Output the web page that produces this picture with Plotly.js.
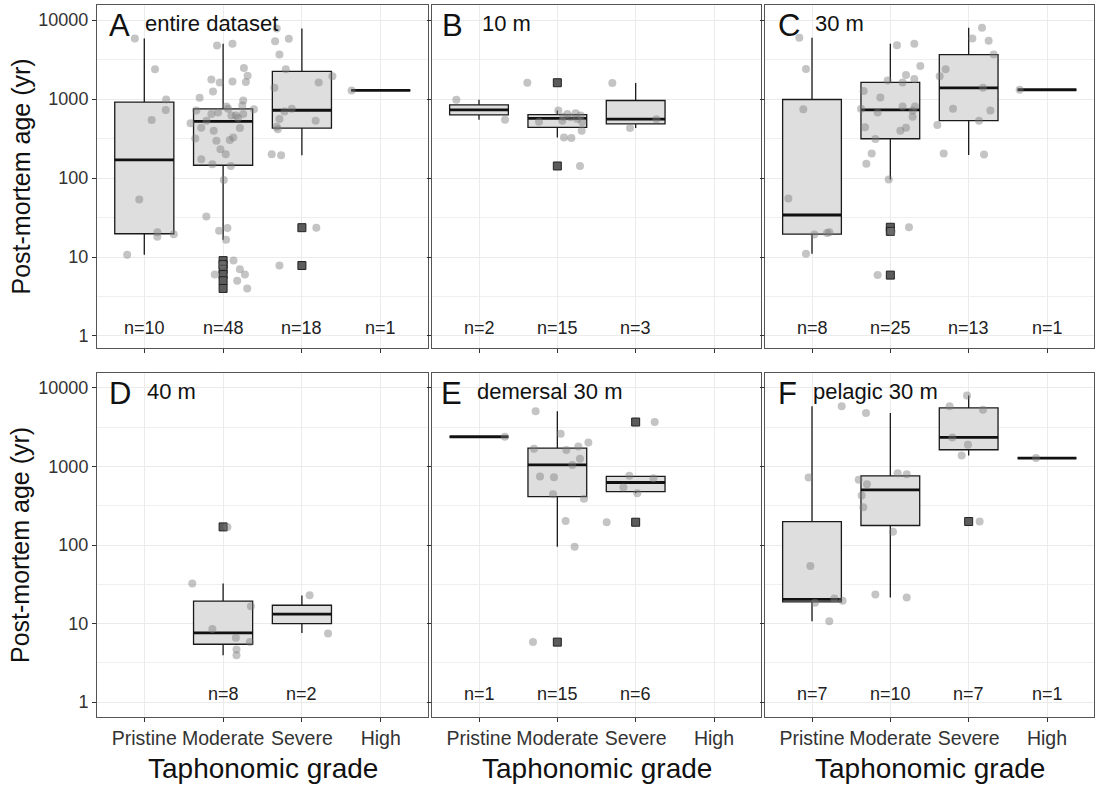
<!DOCTYPE html>
<html>
<head>
<meta charset="utf-8">
<script src="https://cdn.plot.ly/plotly-3.0.1.min.js"></script>
<style>html,body{margin:0;padding:0;background:#fff}#chart{width:1097px;height:785px}</style>
</head>
<body>
<div id="chart"></div>
<script>
// ---------------- DATA ----------------
const categories = ['Pristine', 'Moderate', 'Severe', 'High'];
const yTickVals = [1, 10, 100, 1000, 10000];
const yTickText = ['1', '10', '100', '1000', '10000'];
const yMinorVals = [3.162, 31.62, 316.2, 3162];
const panelLetters = ['A', 'B', 'C', 'D', 'E', 'F'];
const panelLabels = ['entire dataset', '10 m', '30 m', '40 m', 'demersal 30 m', 'pelagic 30 m'];
const xTitle = 'Taphonomic grade';
const yTitle = 'Post-mortem age (yr)';

// Panel A - entire dataset
const A_cat = [0, 1, 2, 3];
const A_n   = [10, 48, 18, 1];
const A_q1  = [19.7, 145, 429, 1283];
const A_med = [170, 522, 721, 1283];
const A_q3  = [912, 750, 2240, 1283];
const A_lo  = [10.7, 16.5, 194, 1283];
const A_hi  = [5840, 5000, 7830, 1283];
const A_outCat = [1, 1, 1, 1, 1, 1, 2, 2];
const A_outVal = [9, 8, 7, 6, 5, 4, 23.5, 7.8];
const A_pristine = [5840, 2377, 986, 728, 543, 53.5, 20.5, 18.1, 19.4, 10.7];
const A_pristine_jit = [-0.12, 0.136, 0.277, 0.272, 0.094, -0.064, 0.166, 0.166, 0.374, -0.217];
const A_moderate = [4760, 5000, 1771, 1622, 1670, 1638, 1972, 2470, 1246, 1035, 826, 742, 802, 617, 647, 647, 673, 492, 433, 397, 429, 326, 302, 317, 200, 173, 149, 142, 94, 32.5, 21.5, 23.3, 16.5, 9, 8, 7, 6, 6, 5, 4, 750, 617, 575, 532, 296, 957, 713, 232];
const A_moderate_jit = [-0.077, 0.119, -0.149, -0.043, 0.119, 0.289, 0.311, 0.264, -0.128, -0.298, 0.243, 0.391, 0.043, 0.162, 0.255, -0.149, -0.064, -0.413, -0.277, -0.119, 0.213, 0.128, 0.085, -0.353, 0.034, -0.277, -0.136, 0.098, 0.009, -0.213, -0.051, 0.055, 0.038, 0.132, -0.01, 0.213, -0.106, 0.277, 0.179, 0.306, 0.064, 0.106, 0.19, -0.21, -0.085, 0.255, -0.34, -0.034];
const A_severe = [5400, 5780, 3650, 2375, 1935, 1622, 1387, 750, 693, 559, 532, 446, 413, 200, 194, 23.5, 7.8, 7830];
const A_severe_jit = [-0.34, -0.166, -0.285, -0.204, 0.387, 0.213, -0.349, -0.128, -0.221, -0.285, 0.174, -0.319, -0.306, -0.383, -0.264, 0.183, -0.285, -0.319];
const A_high = [1283];
const A_high_jit = [-0.37];

// Panel B - 10 m
const B_cat = [0, 1, 2];
const B_n   = [2, 15, 3];
const B_q1  = [629, 438, 483];
const B_med = [728, 570, 555];
const B_q3  = [843, 635, 957];
const B_lo  = [548, 326, 430];
const B_hi  = [976, 714, 1592];
const B_outCat = [1, 1];
const B_outVal = [1607, 142];
const B_pristine = [976, 548];
const B_pristine_jit = [-0.289, 0.332];
const B_moderate = [1607, 714, 647, 660, 598, 587, 617, 507, 517, 397, 326, 320, 142, 559, 532];
const B_moderate_jit = [-0.383, 0.013, 0.128, 0.234, 0.077, 0.17, 0.298, 0.319, -0.234, 0.311, 0.085, 0.179, 0.289, 0.255, 0.064];
const B_severe = [1592, 555, 430];
const B_severe_jit = [-0.298, 0.264, -0.072];

// Panel C - 30 m
const C_cat = [0, 1, 2, 3];
const C_n   = [8, 25, 13, 1];
const C_q1  = [19.5, 314, 532, 1309];
const C_med = [34, 728, 1387, 1309];
const C_q3  = [986, 1623, 3650, 1309];
const C_lo  = [11, 96, 196, 1309];
const C_hi  = [5960, 5000, 7980, 1309];
const C_outCat = [1, 1, 1];
const C_outVal = [23.8, 21.1, 5.9];
const C_pristine = [5960, 2400, 742, 55, 20.1, 20.5, 19.2, 11];
const C_pristine_jit = [-0.162, -0.077, -0.111, -0.302, 0.191, 0.221, 0.03, -0.077];
const C_moderate = [4800, 5000, 2620, 2012, 1790, 1720, 1622, 1259, 1045, 750, 802, 802, 673, 598, 438, 397, 433, 311, 204, 151, 96, 23.8, 5.9, 21.1, 714];
const C_moderate_jit = [0.085, 0.306, 0.383, 0.2, 0.306, -0.034, 0.157, -0.34, -0.128, -0.374, 0.157, 0.315, -0.162, 0.285, -0.323, 0.128, 0.2, -0.191, -0.238, -0.306, -0.021, 0.238, -0.162, 0.017, 0.285];
const C_severe = [7980, 5840, 5460, 3650, 2375, 1935, 1387, 750, 714, 532, 469, 204, 198];
const C_severe_jit = [0.17, 0.047, 0.255, 0.319, -0.294, -0.37, 0.183, -0.2, 0.277, 0.132, -0.4, -0.319, 0.196];
const C_high = [1309];
const C_high_jit = [-0.35];

// Panel D - 40 m
const D_cat = [1, 2];
const D_n   = [8, 2];
const D_q1  = [5.45, 10];
const D_med = [7.6, 13.2];
const D_q3  = [19.3, 17.1];
const D_lo  = [3.94, 7.6];
const D_hi  = [32.4, 22.8];
const D_outCat = [1];
const D_outVal = [170];
const D_moderate = [170, 32.4, 16.6, 8.5, 6.6, 5.8, 4.66, 3.94];
const D_moderate_jit = [0.055, -0.391, 0.353, -0.136, 0.162, 0.34, 0.17, 0.17];
const D_severe = [23, 7.45];
const D_severe_jit = [0.098, 0.332];

// Panel E - demersal 30 m
const E_cat = [0, 1, 2];
const E_n   = [1, 15, 6];
const E_q1  = [2390, 414, 478];
const E_med = [2390, 1050, 625];
const E_q3  = [2390, 1714, 747];
const E_lo  = [2390, 95, 457];
const E_hi  = [2390, 5036, 760];
const E_outCat = [1, 2, 2];
const E_outVal = [5.8, 3680, 195];
const E_pristine = [2390];
const E_pristine_jit = [0.33];
const E_moderate = [5036, 2612, 2024, 1682, 1617, 1799, 1253, 1040, 745, 731, 444, 387, 202, 95, 5.8];
const E_moderate_jit = [-0.277, 0.043, 0.396, -0.298, 0.115, 0.268, 0.289, 0.191, -0.221, -0.043, -0.055, 0.34, 0.106, 0.221, -0.311];
const E_severe = [3680, 760, 710, 540, 457, 195];
const E_severe_jit = [0.243, -0.081, 0.226, -0.157, 0.021, -0.37];

// Panel F - pelagic 30 m
const F_cat = [0, 1, 2, 3];
const F_n   = [7, 10, 7, 1];
const F_q1  = [18.9, 177, 1633, 1277];
const F_med = [20.3, 504, 2345, 1277];
const F_q3  = [199, 760, 5560, 1277];
const F_lo  = [10.7, 21.5, 1381, 1277];
const F_hi  = [5840, 4800, 7980, 1277];
const F_outCat = [2];
const F_outVal = [199];
const F_pristine = [5840, 724, 54, 20.9, 19.5, 18.4, 10.7];
const F_pristine_jit = [0.379, -0.043, -0.021, 0.285, 0.391, 0.038, 0.221];
const F_moderate = [4800, 822, 798, 676, 595, 426, 303, 148, 23.4, 21.5];
const F_moderate_jit = [-0.311, 0.094, 0.209, -0.404, -0.298, -0.366, -0.345, 0.034, -0.191, 0.209];
const F_severe = [7980, 5840, 5290, 2344, 1892, 1381, 199];
const F_severe_jit = [-0.021, -0.243, 0.183, -0.209, -0.009, -0.089, 0.14];
const F_high = [1277];
const F_high_jit = [-0.14];

// ---------------- BUILD ----------------
const panels = [
  {cat: A_cat, n: A_n, q1: A_q1, med: A_med, q3: A_q3, lo: A_lo, hi: A_hi, outCat: A_outCat, outVal: A_outVal,
   pts: [A_pristine, A_moderate, A_severe, A_high], jit: [A_pristine_jit, A_moderate_jit, A_severe_jit, A_high_jit]},
  {cat: B_cat, n: B_n, q1: B_q1, med: B_med, q3: B_q3, lo: B_lo, hi: B_hi, outCat: B_outCat, outVal: B_outVal,
   pts: [B_pristine, B_moderate, B_severe, []], jit: [B_pristine_jit, B_moderate_jit, B_severe_jit, []]},
  {cat: C_cat, n: C_n, q1: C_q1, med: C_med, q3: C_q3, lo: C_lo, hi: C_hi, outCat: C_outCat, outVal: C_outVal,
   pts: [C_pristine, C_moderate, C_severe, C_high], jit: [C_pristine_jit, C_moderate_jit, C_severe_jit, C_high_jit]},
  {cat: D_cat, n: D_n, q1: D_q1, med: D_med, q3: D_q3, lo: D_lo, hi: D_hi, outCat: D_outCat, outVal: D_outVal,
   pts: [[], D_moderate, D_severe, []], jit: [[], D_moderate_jit, D_severe_jit, []]},
  {cat: E_cat, n: E_n, q1: E_q1, med: E_med, q3: E_q3, lo: E_lo, hi: E_hi, outCat: E_outCat, outVal: E_outVal,
   pts: [E_pristine, E_moderate, E_severe, []], jit: [E_pristine_jit, E_moderate_jit, E_severe_jit, []]},
  {cat: F_cat, n: F_n, q1: F_q1, med: F_med, q3: F_q3, lo: F_lo, hi: F_hi, outCat: F_outCat, outVal: F_outVal,
   pts: [F_pristine, F_moderate, F_severe, F_high], jit: [F_pristine_jit, F_moderate_jit, F_severe_jit, F_high_jit]}
];

const W = 1097, H = 785;
const colPx = [[97, 428], [432, 761], [765, 1094]];
const rowPx = [[5, 348], [373, 717]];
const yRanges = [[-0.152, 4.19], [-0.19, 4.19]];
const letterX = [0.031, 0.025, 0.034, 0.031, 0.022, 0.034];
const labelX  = [0.139, 0.146, 0.146, 0.145, 0.13, 0.14];
const boxW = 0.75;
const FONT = 'Liberation Sans, Arial, Helvetica, sans-serif';

const traces = [];
const layout = {
  width: W, height: H,
  margin: {l: 0, r: 0, t: 0, b: 0},
  paper_bgcolor: '#ffffff', plot_bgcolor: '#ffffff',
  showlegend: false,
  font: {family: FONT, color: '#222'},
  annotations: []
};

panels.forEach((p, i) => {
  const r = Math.floor(i / 3), c = i % 3;
  const k = i === 0 ? '' : String(i + 1);
  const xa = 'x' + k, ya = 'y' + k;

  layout['xaxis' + k] = {
    domain: [colPx[c][0] / W, colPx[c][1] / W],
    anchor: ya,
    range: [-0.6, 3.6],
    tickmode: 'array', tickvals: [0, 1, 2, 3], ticktext: categories,
    showticklabels: r === 1,
    tickfont: {size: 19.5, color: '#333', family: FONT},
    ticks: 'outside', ticklen: 4, tickwidth: 1, tickcolor: '#333',
    showgrid: true, gridcolor: '#EBEBEB', gridwidth: 1,
    zeroline: false, showline: true, mirror: true, linecolor: '#555', linewidth: 1,
    fixedrange: true
  };
  layout['yaxis' + k] = {
    type: 'log',
    domain: [1 - rowPx[r][1] / H, 1 - rowPx[r][0] / H],
    anchor: xa,
    range: yRanges[r],
    tickmode: 'array', tickvals: yTickVals, ticktext: yTickText,
    showticklabels: c === 0,
    tickfont: {size: 18, color: '#333', family: FONT},
    ticks: 'outside', ticklen: 4, tickwidth: 1, tickcolor: '#333',
    showgrid: true, gridcolor: '#EBEBEB', gridwidth: 1,
    minor: {tickmode: 'array', tickvals: yMinorVals, showgrid: true, gridcolor: '#EFEFEF', gridwidth: 1, ticks: ''},
    zeroline: false, showline: true, mirror: true, linecolor: '#555', linewidth: 1,
    fixedrange: true
  };

  // boxes from summary statistics
  traces.push({
    type: 'box', orientation: 'v', xaxis: xa, yaxis: ya,
    x: p.cat, q1: p.q1, median: p.med, q3: p.q3, lowerfence: p.lo, upperfence: p.hi,
    width: boxW, whiskerwidth: 0, boxpoints: false,
    fillcolor: '#DEDEDE', line: {color: '#1a1a1a', width: 1.3},
    hoverinfo: 'skip'
  });
  // thick median lines
  const mx = [], my = [];
  p.cat.forEach((cv, j) => { mx.push(cv - boxW / 2, cv + boxW / 2, null); my.push(p.med[j], p.med[j], null); });
  traces.push({type: 'scatter', mode: 'lines', xaxis: xa, yaxis: ya, x: mx, y: my,
    line: {color: '#111', width: 2.8}, hoverinfo: 'skip'});
  // outliers
  traces.push({type: 'scatter', mode: 'markers', xaxis: xa, yaxis: ya, x: p.outCat, y: p.outVal,
    marker: {symbol: 'square', size: 8, color: '#5c5c5c', line: {color: '#222', width: 1}}, hoverinfo: 'skip'});
  // jittered raw points
  const px = [], py = [];
  p.pts.forEach((vals, ci) => vals.forEach((v, j) => { px.push(ci + p.jit[ci][j]); py.push(v); }));
  traces.push({type: 'scatter', mode: 'markers', xaxis: xa, yaxis: ya, x: px, y: py,
    marker: {symbol: 'circle', size: 8, color: 'rgba(125,125,125,0.45)', line: {width: 0}}, hoverinfo: 'skip'});

  // n labels
  p.cat.forEach((cv, j) => {
    layout.annotations.push({xref: xa, yref: ya, x: cv, y: 0.1, text: 'n=' + p.n[j], showarrow: false,
      xanchor: 'center', yanchor: 'middle', font: {size: 18, color: '#222', family: FONT}});
  });
  // panel letter and label
  layout.annotations.push({xref: xa + ' domain', yref: ya + ' domain', x: letterX[i], y: 0.94, text: panelLetters[i],
    showarrow: false, xanchor: 'left', yanchor: 'middle', font: {size: 31, color: '#111', family: FONT}});
  layout.annotations.push({xref: xa + ' domain', yref: ya + ' domain', x: labelX[i], y: 0.945, text: panelLabels[i],
    showarrow: false, xanchor: 'left', yanchor: 'middle', font: {size: 22, color: '#111', family: FONT}});

  // axis titles
  if (c === 0) {
    layout.annotations.push({xref: 'paper', yref: ya + ' domain', x: 20 / W, y: 0.5, text: yTitle, textangle: -90,
      showarrow: false, xanchor: 'center', yanchor: 'middle', font: {size: 25, color: '#111', family: FONT}});
  }
  if (r === 1) {
    layout.annotations.push({xref: xa + ' domain', yref: 'paper', x: 0.5, y: 1 - 768 / H, text: xTitle,
      showarrow: false, xanchor: 'center', yanchor: 'middle', font: {size: 28, color: '#111', family: FONT}});
  }
});

Plotly.newPlot('chart', traces, layout, {displayModeBar: false, staticPlot: true});
</script>
</body>
</html>
